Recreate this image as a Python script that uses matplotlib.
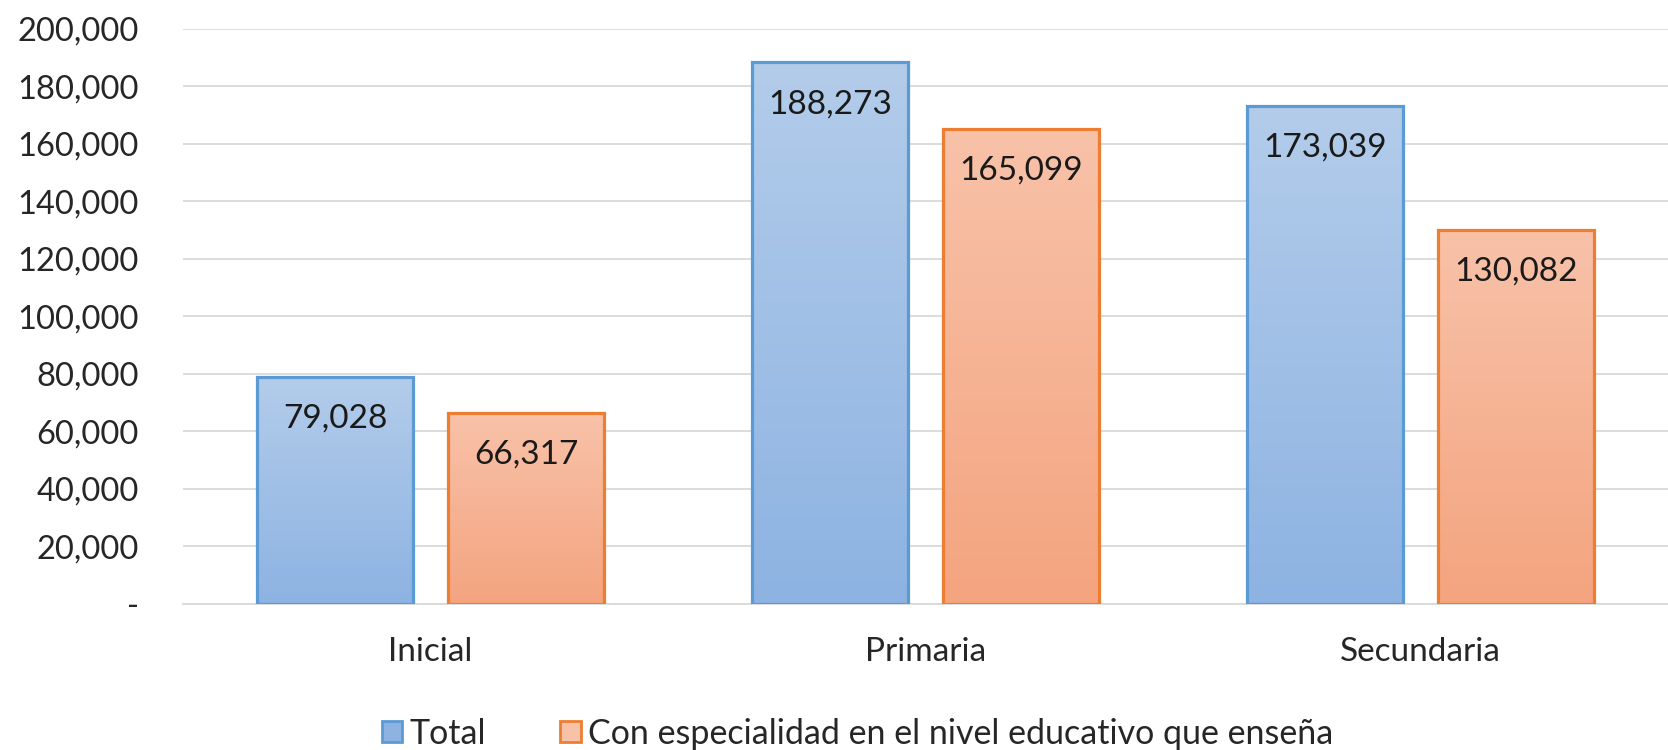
import matplotlib.pyplot as plt
import numpy as np
from matplotlib.patches import Patch
from matplotlib.colors import LinearSegmentedColormap

plt.rcParams['font.family'] = ['Lato', 'DejaVu Sans']

categories = ['Inicial', 'Primaria', 'Secundaria']
total = [79028, 188273, 173039]
especialidad = [66317, 165099, 130082]
series_names = ['Total', 'Con especialidad en el nivel educativo que enseña']
yticks = [0, 20000, 40000, 60000, 80000, 100000, 120000, 140000, 160000, 180000, 200000]

blue_grad = ('#B3CCEA', '#8DB3E2')
orange_grad = ('#F8C2A9', '#F4A47F')
blue_edge = '#5B9BD5'
orange_edge = '#ED7D31'

fig = plt.figure(figsize=(16.68, 7.5), dpi=100)
ax = fig.add_axes([0.1097, 0.1947, 0.8903, 0.767])

x = np.arange(len(categories))
w = 0.315
off = 0.193


def gradient_bars(bars, cols, edge):
    cmap = LinearSegmentedColormap.from_list('g', [cols[1], cols[0]])
    grad = np.linspace(0, 1, 256).reshape(-1, 1)
    for b in bars:
        x0, y0 = b.get_x(), b.get_y()
        im = ax.imshow(grad, cmap=cmap, aspect='auto', origin='lower',
                       extent=[x0, x0 + b.get_width(), y0, y0 + b.get_height()],
                       zorder=2)
        im.set_clip_path(b)
        b.set_facecolor('none')
        b.set_edgecolor(edge)
        b.set_linewidth(2.3)
        b.set_zorder(3)


b1 = ax.bar(x - off, total, w)
b2 = ax.bar(x + off, especialidad, w)
gradient_bars(b1, blue_grad, blue_edge)
gradient_bars(b2, orange_grad, orange_edge)

for bars, vals in ((b1, total), (b2, especialidad)):
    for b, v in zip(bars, vals):
        ax.annotate(f'{v:,}', (b.get_x() + b.get_width() / 2, v),
                    xytext=(0, -30), textcoords='offset points',
                    ha='center', va='center', fontsize=24, color='#1a1a1a', zorder=4)

ax.set_xlim(-0.5, 2.5)
ax.set_ylim(0, 200000)
ax.set_yticks(yticks)
ax.set_yticklabels(['-'] + [f'{t:,}' for t in yticks[1:]])
ax.set_xticks(x)
ax.set_xticklabels(categories)
ax.tick_params(axis='y', length=0, pad=32, labelsize=23.5, labelcolor='#262626')
ax.tick_params(axis='x', length=0, pad=24, labelsize=24, labelcolor='#262626')
ax.grid(axis='y', color='#D9D9D9', linewidth=1.3, zorder=0)
ax.set_axisbelow(True)
for s in ['top', 'right', 'left']:
    ax.spines[s].set_visible(False)
ax.spines['bottom'].set_color('#D9D9D9')
ax.spines['bottom'].set_linewidth(1.3)

handles = [Patch(facecolor=blue_grad[1], edgecolor=blue_edge, linewidth=2),
           Patch(facecolor=orange_grad[0], edgecolor=orange_edge, linewidth=2)]
fig.legend(handles, series_names, loc='center', bbox_to_anchor=(0.514, 0.022),
           ncol=2, frameon=False, fontsize=24.5, handlelength=0.6, handleheight=0.6,
           handletextpad=0.2, columnspacing=2.2, labelcolor='#262626')

fig.savefig('out.png', dpi=100)
